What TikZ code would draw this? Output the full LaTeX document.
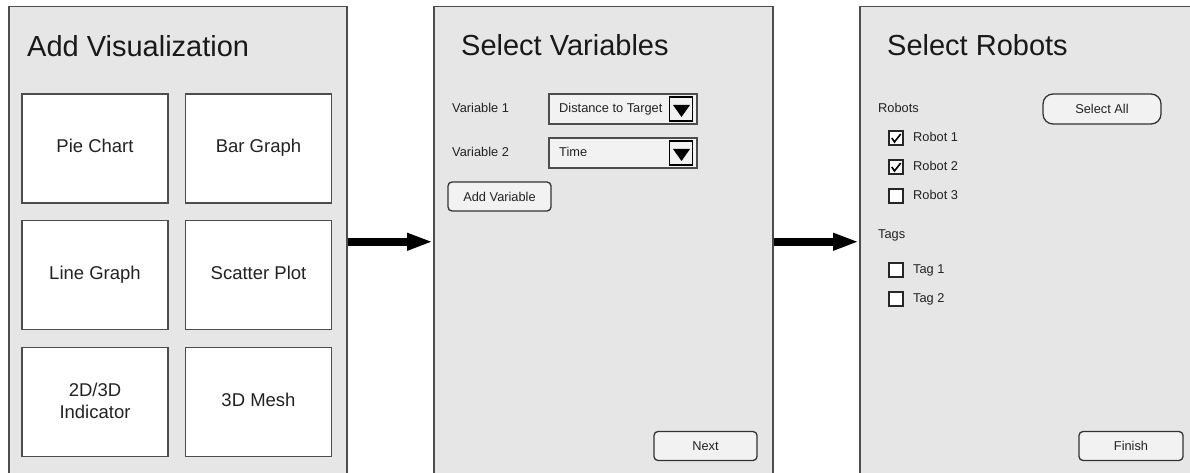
\documentclass[tikz,border=0pt]{standalone}
\usepackage{fontspec}
\setmainfont{Liberation Sans}
\usetikzlibrary{arrows.meta}
\definecolor{panelgray}{HTML}{E6E6E6}
\definecolor{btngray}{HTML}{F2F2F2}
\definecolor{edge}{HTML}{4D4D4D}
\definecolor{txt}{HTML}{222222}
\begin{document}
\begin{tikzpicture}[x=1pt,y=-1pt,
  panel/.style={draw=edge,line width=1.5pt,fill=panelgray,rectangle,inner sep=0pt,anchor=north west},
  cell/.style={draw=edge,line width=1.3pt,fill=white,rectangle,inner sep=0pt,minimum width=146pt,minimum height=109pt},
  celltext/.style={inner sep=0pt,font=\fontsize{18.5}{22}\selectfont,text=txt,align=center},
  oneline/.style={text height=13.3pt,text depth=0pt},
  title/.style={anchor=base west,inner sep=0pt,font=\fontsize{29}{34}\selectfont,text=black!90},
  small/.style={anchor=west,inner sep=0pt,font=\fontsize{12.8}{15}\selectfont,text=txt,text height=9.2pt,text depth=0pt},
  dropbox/.style={draw=edge,line width=1.3pt,fill=btngray,rectangle,inner sep=0pt,minimum width=148pt,minimum height=30pt},
  tribox/.style={draw=black,line width=1.4pt,fill=btngray,rectangle,inner sep=0pt,minimum width=23pt,minimum height=24pt},
  btn/.style={draw=black!80,line width=1.3pt,fill=btngray,rounded corners=4pt,rectangle,inner sep=0pt,minimum height=29pt,font=\fontsize{12.8}{15}\selectfont,text=txt,text height=9.2pt,text depth=0pt},
  chk/.style={draw=black!85,line width=1.3pt,fill=white,rectangle,inner sep=0pt,minimum size=14pt},
  bigarrow/.style={line width=7.5pt,-{Triangle[length=26pt,width=16pt]}}
]
\useasboundingbox (0,0) rectangle (1190,473);
\clip (0,0) rectangle (1190,473);
\fill[white] (0,0) rectangle (1190,473);

% Panels
\node[panel,minimum width=338pt,minimum height=470pt] (p1) at (8,6) {};
\node[panel,minimum width=339pt,minimum height=470pt] (p2) at (433,6) {};
\node[panel,minimum width=345pt,minimum height=470pt] (p3) at (859,6) {};

% Panel 1
\node[title] (t1) at (27,57) {Add Visualization};
\node[cell] (c11) at (95,148.5) {};
\node[cell] (c12) at (258.5,148.5) {};
\node[cell] (c21) at (95,275) {};
\node[cell] (c22) at (258.5,275) {};
\node[cell] (c31) at (95,402) {};
\node[cell] (c32) at (258.5,402) {};
\node[celltext,oneline] (l11) at ([yshift=2.5pt]c11.center) {Pie Chart};
\node[celltext,oneline] (l12) at ([yshift=2.5pt]c12.center) {Bar Graph};
\node[celltext,oneline] (l21) at ([yshift=2pt]c21.center) {Line Graph};
\node[celltext,oneline] (l22) at ([yshift=2pt]c22.center) {Scatter Plot};
\node[celltext] (l31) at ([yshift=1pt]c31.center) {2D/3D\\Indicator};
\node[celltext,oneline] (l32) at ([yshift=2pt]c32.center) {3D Mesh};

% Panel 2
\node[title] (t2) at (461,56) {Select Variables};
\node[small] (v1) at (452,107.5) {Variable 1};
\node[small] (v2) at (452,151.5) {Variable 2};
\node[dropbox] (d1) at (623,109) {};
\node[small] (d1t) at (559,107.5) {Distance to Target};
\node[tribox] (d1b) at (681,109) {};
\fill[black] (673,105) -- (690,105) -- (681.5,117) -- cycle;
\node[dropbox] (d2) at (623,153) {};
\node[small] (d2t) at (559,151.5) {Time};
\node[tribox] (d2b) at (681,153) {};
\fill[black] (673,149) -- (690,149) -- (681.5,161) -- cycle;
\node[btn,minimum width=103pt] (addv) at (499.5,196.5) {Add Variable};
\node[btn,minimum width=103pt] (next) at (705.5,446) {Next};

% Panel 3
\node[title] (t3) at (887,56) {Select Robots};
\node[small] (rl) at (878,107.5) {Robots};
\node[btn,rounded corners=10pt,minimum width=118pt,minimum height=30pt] (sall) at (1102,109) {Select All};
\node[chk] (cb1) at (896,138) {};
\node[small] (r1) at (913,136.5) {Robot 1};
\node[chk] (cb2) at (896,167) {};
\node[small] (r2) at (913,165.5) {Robot 2};
\node[chk] (cb3) at (896,196) {};
\node[small] (r3) at (913,194.5) {Robot 3};
\node[small] (tl) at (878,234) {Tags};
\node[chk] (cb4) at (896,270) {};
\node[small] (g1) at (913,268.5) {Tag 1};
\node[chk] (cb5) at (896,299) {};
\node[small] (g2) at (913,297.5) {Tag 2};
\draw[line width=1.6pt,black] ([shift={(3.5,0)}]cb1.west) -- ([shift={(-1.5,4)}]cb1.center) -- ([shift={(-3,-4)}]cb1.east);
\draw[line width=1.6pt,black] ([shift={(3.5,0)}]cb2.west) -- ([shift={(-1.5,4)}]cb2.center) -- ([shift={(-3,-4)}]cb2.east);
\node[btn,minimum width=104pt] (fin) at (1131,446) {Finish};

% Arrows
\draw[bigarrow] (p1.east) -- (p2.west);
\draw[bigarrow] (p2.east) -- (p3.west);
\end{tikzpicture}
\end{document}
